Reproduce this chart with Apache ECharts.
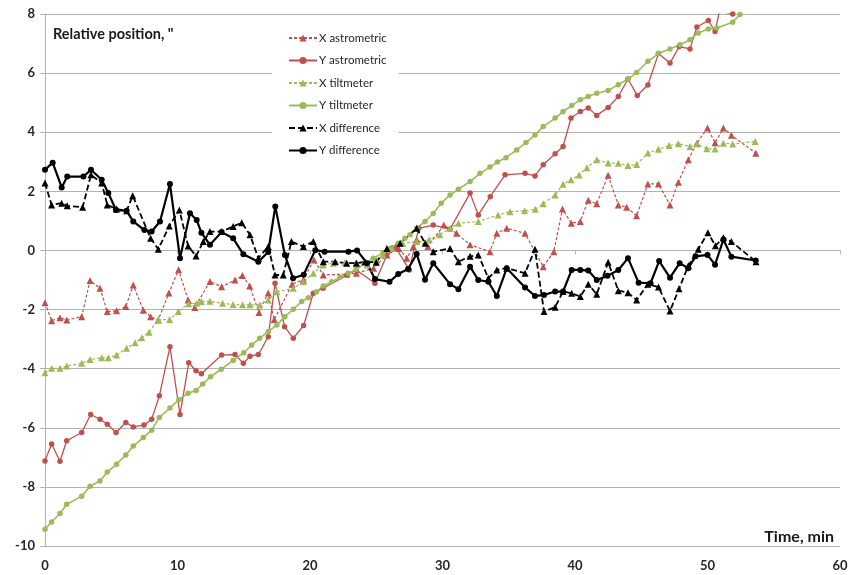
<!DOCTYPE html>
<html>
<head>
<meta charset="utf-8">
<script src="https://cdn.jsdelivr.net/npm/echarts@6/dist/echarts.min.js"></script>
<style>
  html, body { margin: 0; padding: 0; background: #fff; }
  #chart { width: 851px; height: 575px; }
</style>
</head>
<body>
<div id="chart"></div>
<script>
// Time axis (min) and position axis (arcsec)
const xTicks = [0, 10, 20, 30, 40, 50, 60];
const yTicks = [-10, -8, -6, -4, -2, 0, 2, 4, 6, 8];

const seriesNames = ['X astrometric', 'Y astrometric', 'X tiltmeter', 'Y tiltmeter', 'X difference', 'Y difference'];

// [time, position] pairs
const xAstrometric = [
  [0,-1.77],[0.5,-2.38],[1.13,-2.28],[1.64,-2.35],[2.77,-2.24],[3.4,-1.02],[4.15,-1.28],[4.7,-2.07],
  [5.4,-2.04],[6.1,-1.9],[6.66,-1.17],[7.42,-2.02],[7.97,-2.24],[8.55,-2.35],[9.35,-1.44],[10.08,-0.65],
  [10.8,-1.68],[11.3,-1.93],[12.45,-1.05],[13.33,-1.23],[14.34,-1.0],[14.9,-0.85],[15.45,-1.2],[16.15,-2.1],
  [16.85,-1.44],[17.3,-2.34],[18.65,-1.14],[19.5,-0.99],[20.3,-0.32],[21.0,-0.83],[22.77,-0.8],[23.5,-0.77],
  [24.8,-0.6],[25.8,-0.15],[26.7,0.07],[27.3,-0.26],[27.8,0.13],[28.05,0.36],[28.9,0.13],[30.1,0.86],
  [31.06,0.58],[32.08,0.19],[33.58,-0.04],[34.1,0.58],[34.85,0.75],[36.23,0.58],[37.6,-0.55],[38.4,-0.04],
  [39.05,1.4],[39.72,0.92],[40.4,0.98],[41.0,1.7],[41.64,1.58],[42.5,2.54],[43.27,1.54],[43.9,1.46],
  [44.65,1.17],[45.5,2.25],[46.3,2.25],[47.17,1.54],[47.8,2.31],[48.55,3.07],[49.2,3.63],[50.0,4.14],
  [50.57,3.64],[51.2,4.14],[51.8,3.9],[53.65,3.29]
];

const yAstrometric = [
  [0,-7.12],[0.5,-6.55],[1.13,-7.13],[1.64,-6.44],[2.77,-6.16],[3.45,-5.55],[4.15,-5.71],[4.7,-5.88],
  [5.36,-6.16],[6.1,-5.82],[6.66,-5.97],[7.47,-5.91],[8.05,-5.71],[8.63,-4.92],[9.43,-3.26],[10.19,-5.55],
  [10.85,-3.8],[11.4,-4.07],[11.8,-4.17],[13.33,-3.54],[14.34,-3.52],[14.97,-3.82],[15.47,-3.58],[16.1,-3.52],
  [16.85,-2.92],[17.36,-1.11],[18.08,-2.58],[18.74,-2.97],[19.52,-2.54],[20.25,-1.45],[21.0,-1.28],[22.8,-0.83],
  [23.5,-0.66],[24.9,-1.11],[25.8,-0.15],[26.5,0.07],[27.5,-0.66],[28.2,0.75],[29.3,0.86],[30.57,0.72],
  [32.08,1.94],[32.7,1.2],[33.6,1.82],[34.72,2.56],[36.23,2.61],[36.98,2.52],[37.6,2.9],[38.5,3.27],
  [39.1,3.52],[39.7,4.48],[40.4,4.7],[41.0,4.82],[41.64,4.57],[42.5,4.84],[43.27,5.21],[44.0,5.8],
  [44.7,5.24],[45.5,5.6],[46.3,6.66],[47.17,6.34],[47.87,6.9],[48.68,6.82],[49.2,7.56],[50.06,7.78],
  [50.57,7.41],[50.9,8.1],[51.9,8.0]
];

const xTiltmeter = [
  [0,-4.14],[0.5,-3.99],[1.13,-3.99],[1.64,-3.91],[2.77,-3.82],[3.4,-3.69],[4.28,-3.63],[4.78,-3.63],
  [5.4,-3.54],[6.16,-3.31],[6.8,-3.12],[7.3,-2.95],[7.85,-2.77],[8.55,-2.34],[9.4,-2.34],[10.06,-2.07],
  [10.85,-1.8],[11.45,-1.79],[11.8,-1.73],[12.45,-1.72],[13.4,-1.79],[14.2,-1.83],[14.9,-1.84],[15.47,-1.84],
  [16.2,-1.85],[16.85,-1.68],[17.5,-1.4],[18.74,-1.28],[19.5,-1.06],[20.25,-0.77],[21.0,-0.49],[21.76,-0.43],
  [22.64,-0.41],[23.5,-0.41],[24.3,-0.49],[25.0,-0.32],[25.5,-0.15],[26.2,0.07],[27.0,0.24],[28.05,0.3],
  [29.0,0.36],[29.8,0.53],[30.57,0.75],[31.2,0.92],[32.7,0.98],[34.2,1.2],[35.1,1.31],[36.2,1.34],
  [37.0,1.39],[37.6,1.58],[38.5,1.88],[39.1,2.24],[39.7,2.39],[40.3,2.55],[40.9,2.8],[41.64,3.07],
  [42.5,2.96],[43.27,2.95],[44.0,2.87],[44.65,2.91],[45.5,3.3],[46.3,3.42],[47.1,3.55],[47.8,3.61],
  [48.68,3.52],[49.2,3.6],[49.95,3.44],[50.57,3.43],[51.2,3.63],[51.9,3.6],[53.6,3.69]
];

const yTiltmeter = [
  [0,-9.43],[0.5,-9.19],[1.13,-8.9],[1.64,-8.59],[2.77,-8.32],[3.4,-7.98],[4.15,-7.8],[4.7,-7.5],
  [5.4,-7.23],[6.1,-6.92],[6.66,-6.62],[7.42,-6.33],[8.05,-6.08],[8.63,-5.65],[9.43,-5.33],[10.1,-5.05],
  [10.8,-4.83],[11.4,-4.74],[11.9,-4.52],[12.5,-4.27],[13.3,-4.02],[14.2,-3.72],[15.0,-3.46],[15.6,-3.2],
  [16.2,-2.97],[16.85,-2.75],[17.5,-2.52],[18.1,-2.24],[18.74,-1.99],[19.37,-1.73],[19.87,-1.6],[20.5,-1.4],
  [21.0,-1.2],[21.63,-1.06],[22.26,-0.91],[22.9,-0.77],[23.5,-0.64],[24.15,-0.43],[24.78,-0.26],[25.5,-0.09],
  [26.0,0.07],[26.66,0.24],[27.17,0.41],[27.55,0.53],[28.05,0.75],[28.68,0.98],[29.3,1.25],[29.9,1.6],
  [30.57,1.88],[31.2,2.07],[32.08,2.33],[32.83,2.61],[33.58,2.82],[34.14,2.99],[34.79,3.14],[35.6,3.4],
  [36.3,3.65],[36.98,3.91],[37.6,4.19],[38.5,4.48],[39.1,4.7],[39.75,4.9],[40.4,5.1],[41.0,5.21],
  [41.64,5.32],[42.5,5.41],[43.27,5.61],[44.0,5.8],[44.65,6.02],[45.5,6.4],[46.29,6.66],[47.17,6.82],
  [47.92,6.96],[48.68,7.13],[49.3,7.36],[50.06,7.49],[50.7,7.53],[51.9,7.72],[52.45,7.98]
];

const xDifference = [
  [0,2.28],[0.5,1.54],[1.26,1.6],[1.68,1.51],[2.84,1.46],[3.47,2.56],[4.28,2.28],[4.7,1.54],
  [5.4,1.4],[6.16,1.34],[6.62,1.85],[7.97,0.41],[8.55,0.04],[9.38,0.83],[10.14,1.37],[10.8,0.15],
  [11.4,-0.19],[11.95,0.3],[12.45,0.64],[13.33,0.64],[14.2,0.81],[14.85,0.94],[15.47,0.53],[16.1,-0.26],
  [16.85,0.13],[17.36,-0.83],[17.98,-0.83],[18.6,0.3],[19.5,0.13],[20.25,0.3],[21.0,-0.38],[21.9,-0.38],
  [22.77,-0.43],[23.5,-0.43],[24.15,-0.38],[25.0,-0.4],[25.8,0.07],[26.8,0.24],[28.05,0.75],[28.7,0.24],
  [29.3,-0.04],[30.57,0.07],[31.2,-0.38],[32.08,-0.2],[32.7,-0.15],[33.46,-0.94],[34.1,-0.66],[34.85,-0.6],
  [36.23,-0.77],[36.98,0.04],[37.66,-2.07],[38.5,-1.92],[39.1,-1.39],[39.75,-1.45],[40.4,-1.56],[41.0,-1.14],
  [41.64,-1.48],[42.5,-0.4],[43.27,-1.36],[44.0,-1.43],[44.65,-1.68],[45.5,-1.14],[46.3,-1.24],[47.17,-2.05],
  [47.85,-1.3],[48.55,-0.52],[49.3,0.04],[50.03,0.6],[50.6,0.16],[51.2,0.43],[51.8,0.3],[53.66,-0.38]
];

const yDifference = [
  [0,2.73],[0.58,2.97],[1.26,2.13],[1.68,2.5],[2.9,2.5],[3.47,2.73],[4.28,2.39],[4.78,1.94],
  [5.36,1.37],[6.16,1.34],[6.66,0.98],[7.5,0.69],[8.05,0.64],[8.68,0.98],[9.43,2.25],[10.19,-0.26],
  [10.94,1.26],[11.45,1.03],[11.8,0.6],[12.45,0.19],[13.33,0.62],[14.2,0.41],[14.97,-0.13],[16.1,-0.38],
  [16.85,-0.05],[17.38,1.49],[18.1,-0.15],[18.72,-0.94],[19.52,-0.82],[20.4,0.01],[21.1,-0.04],[22.9,-0.04],
  [23.55,0],[24.3,-0.43],[24.9,-0.97],[26.0,-1.06],[26.66,-0.8],[27.4,-0.63],[28.05,-0.12],[28.68,-0.99],
  [29.3,-0.43],[30.57,-1.14],[31.2,-1.31],[32.08,-0.55],[32.7,-1.0],[33.46,-1.06],[34.1,-1.54],[34.85,-0.6],
  [36.23,-1.25],[36.98,-1.54],[37.66,-1.51],[38.5,-1.39],[39.1,-1.39],[39.75,-0.66],[40.4,-0.66],[41.0,-0.68],
  [41.64,-1.0],[42.45,-0.86],[43.27,-0.66],[44.0,-0.26],[44.8,-1.09],[45.7,-1.11],[46.35,-0.36],[47.17,-0.92],
  [47.9,-0.43],[48.55,-0.6],[49.1,-0.2],[50.0,-0.15],[50.57,-0.48],[51.2,0.37],[51.8,-0.21],[53.64,-0.34]
];

const RED = '#c0504d';
const GREEN = '#9bbb59';
const BLACK = '#000000';
const GRID_GRAY = '#b3b3b3';
const FONT = 'Lato, "Open Sans", sans-serif';

function lineSeries(name, data, color, dashed, width, symbol, size, dash) {
  return {
    name: name,
    type: 'line',
    xAxisIndex: 0,
    yAxisIndex: 0,
    data: data,
    symbol: symbol,
    symbolSize: size,
    showSymbol: true,
    animation: false,
    lineStyle: { color: color, width: width, type: dashed ? dash : 'solid' },
    itemStyle: { color: color, borderWidth: 0 },
    emphasis: { disabled: true }
  };
}

const chart = echarts.init(document.getElementById('chart'), null, { renderer: 'canvas' });

chart.setOption({
  backgroundColor: '#ffffff',
  animation: false,
  textStyle: { fontFamily: FONT },
  grid: { left: 45, right: 11, top: 14, bottom: 29, containLabel: false },
  title: [
    {
      text: 'Relative position, "',
      left: 48, top: 22,
      textStyle: { fontFamily: FONT, fontSize: 14.5, fontWeight: 'bold', color: '#1a1a1a' }
    },
    {
      text: 'Time, min',
      right: 12, top: 524,
      textStyle: { fontFamily: FONT, fontSize: 16, fontWeight: 'bold', color: '#1a1a1a' }
    }
  ],
  legend: {
    data: seriesNames,
    orient: 'vertical',
    left: 272, top: 24,
    padding: [8, 12, 8, 16],
    backgroundColor: '#ffffff',
    itemWidth: 28,
    itemHeight: 9,
    itemGap: 10.5,
    selectedMode: false,
    textStyle: { fontFamily: FONT, fontSize: 11.5, color: '#262626', lineHeight: 12, padding: [0, 0, 0, -3] }
  },
  xAxis: [
    {
      // zero line with its downward tick marks
      type: 'value', min: 0, max: 60, interval: 10,
      axisLine: { show: true, onZero: true, lineStyle: { color: GRID_GRAY, width: 1 } },
      axisTick: { show: true, inside: false, length: 4, lineStyle: { color: GRID_GRAY } },
      axisLabel: { show: false },
      splitLine: { show: false }
    },
    {
      // bottom labels
      type: 'value', min: 0, max: 60, interval: 10, position: 'bottom',
      axisLine: { show: false, onZero: false },
      axisTick: { show: false },
      axisLabel: { show: true, margin: 13, fontFamily: FONT, fontSize: 13, fontWeight: 'bold', color: '#262626',
                   formatter: v => (xTicks.includes(v) ? String(v) : '') },
      splitLine: { show: false }
    }
  ],
  yAxis: {
    type: 'value', min: -10, max: 8, interval: 2,
    axisLine: { show: true, lineStyle: { color: GRID_GRAY, width: 1 } },
    axisTick: { show: true, length: 5, lineStyle: { color: GRID_GRAY } },
    axisLabel: { margin: 10, fontFamily: FONT, fontSize: 13, fontWeight: 'bold', color: '#262626',
                 formatter: v => (yTicks.includes(v) ? String(v) : '') },
    splitLine: { show: true, lineStyle: { color: GRID_GRAY, width: 1.2 } }
  },
  series: [
    lineSeries(seriesNames[0], xAstrometric, RED, true, 1.2, 'triangle', 7, [3, 2]),
    lineSeries(seriesNames[1], yAstrometric, RED, false, 1.3, 'circle', 5.5),
    lineSeries(seriesNames[2], xTiltmeter, GREEN, true, 1.2, 'triangle', 7, [3, 2]),
    lineSeries(seriesNames[3], yTiltmeter, GREEN, false, 1.6, 'circle', 5.5),
    lineSeries(seriesNames[4], xDifference, BLACK, true, 1.8, 'triangle', 7, [6, 3]),
    lineSeries(seriesNames[5], yDifference, BLACK, false, 2.2, 'circle', 6)
  ]
});
</script>
</body>
</html>
